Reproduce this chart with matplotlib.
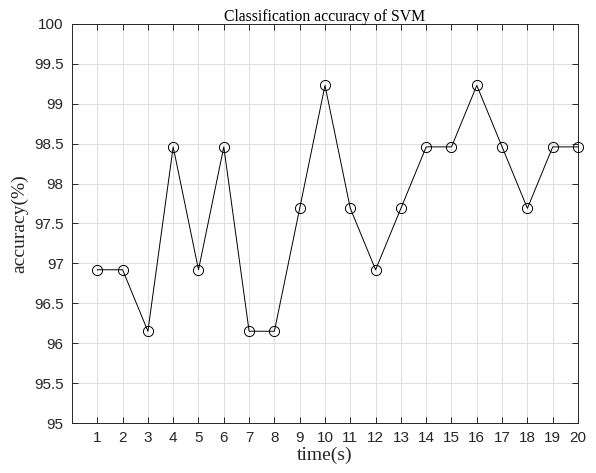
import numpy as np
import matplotlib.pyplot as plt

# per-second classification accuracy (%)
time_s = np.arange(1, 21)
accuracy = [96.92, 96.92, 96.15, 98.46, 96.92, 98.46, 96.15, 96.15, 97.69, 99.23,
            97.69, 96.92, 97.69, 98.46, 98.46, 99.23, 98.46, 97.69, 98.46, 98.46]
yticks = [95, 95.5, 96, 96.5, 97, 97.5, 98, 98.5, 99, 99.5, 100]
ytick_labels = ['95', '95.5', '96', '96.5', '97', '97.5', '98', '98.5', '99', '99.5', '100']

serif = 'Liberation Serif'
sans = 'Liberation Sans'

fig = plt.figure(figsize=(5.96, 4.73), dpi=100)
ax = fig.add_axes([0.1208, 0.1057, 0.8490, 0.8436])

ax.plot(time_s, accuracy, color='black', linewidth=0.7, marker='o',
        markersize=7.3, markerfacecolor='none', markeredgecolor='black',
        markeredgewidth=0.7, clip_on=False, zorder=3)

ax.set_xlim(0, 20)
ax.set_ylim(95, 100)
ax.set_xticks(time_s)
ax.set_xticklabels([str(t) for t in time_s], fontfamily=sans, fontsize=11)
ax.set_yticks(yticks)
ax.set_yticklabels(ytick_labels, fontfamily=sans, fontsize=11)

ax.grid(True, color='#dedede', linewidth=0.7)
ax.set_axisbelow(True)
ax.tick_params(direction='in', top=True, right=True, length=4, width=0.7,
               color='#262626', labelcolor='#262626', pad=6)
for sp in ax.spines.values():
    sp.set_color('#262626')
    sp.set_linewidth(0.7)

ax.set_title('Classification accuracy of SVM', fontfamily=serif, fontsize=11.3, pad=2)
ax.set_xlabel('time(s)', fontfamily=serif, fontsize=14, labelpad=1, color='#262626')
ax.set_ylabel('accuracy(%)', fontfamily=serif, fontsize=14, labelpad=4, color='#262626')

fig.savefig('out.png', dpi=100)
